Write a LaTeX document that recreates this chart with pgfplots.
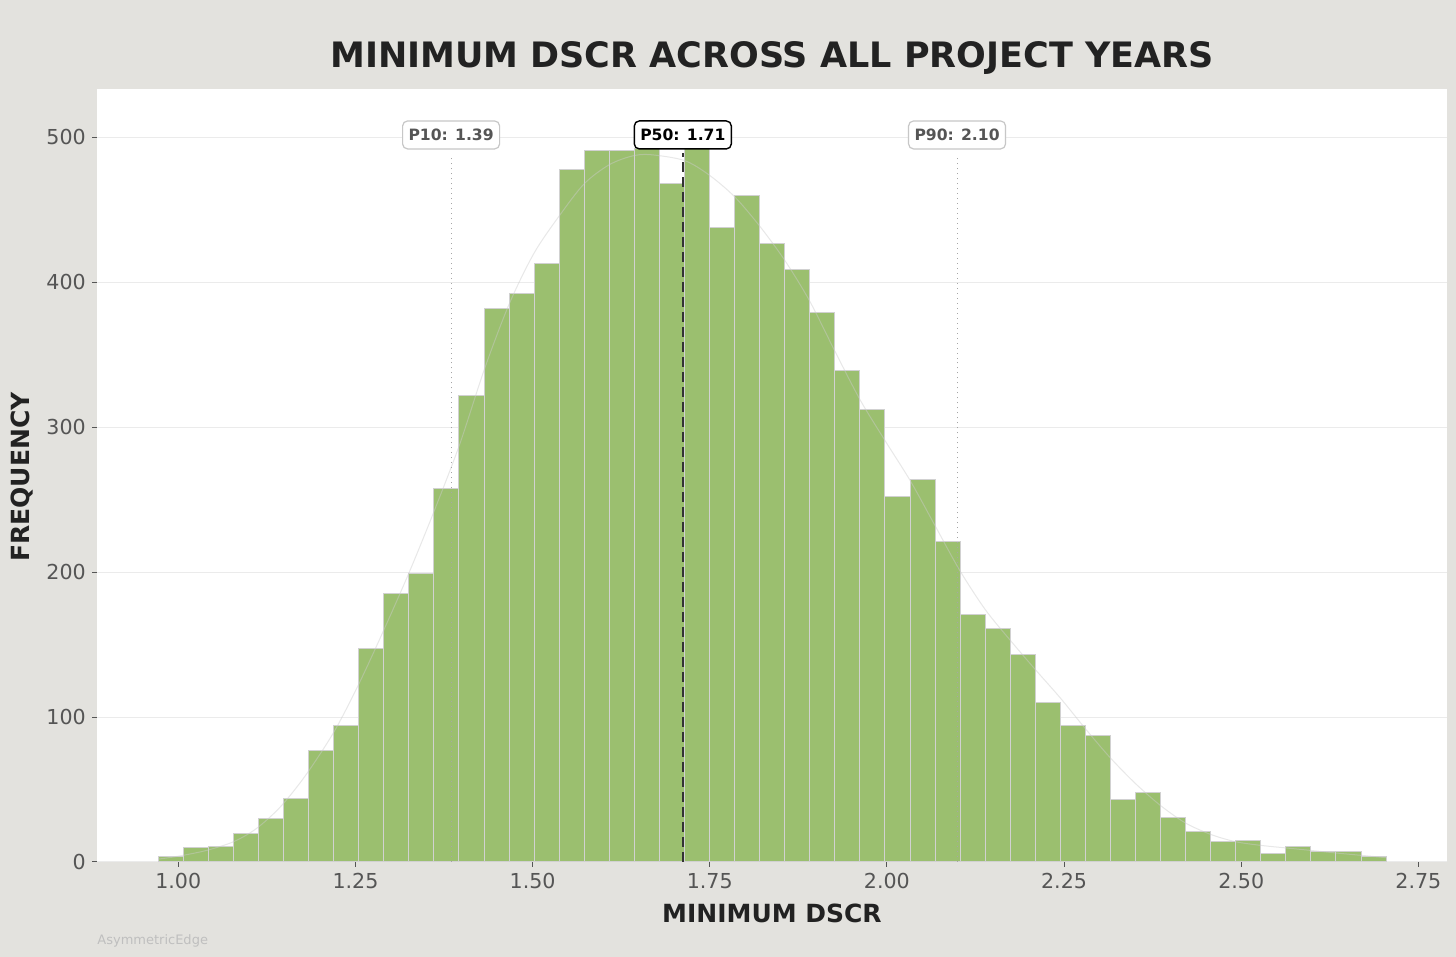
\documentclass[border=0pt]{standalone}
\usepackage{pgfplots}
\pgfplotsset{compat=1.18}
\usepackage{fontspec}
\setmainfont{DejaVu Sans}
\definecolor{bgc}{RGB}{227,226,222}
\definecolor{barg}{RGB}{155,191,111}
\definecolor{titlec}{RGB}{34,34,34}
\definecolor{tickc}{RGB}{85,85,85}
\begin{document}
\begin{tikzpicture}
\fill[bgc] (0,0) rectangle (728bp,478.5bp);
\useasboundingbox (0,0) rectangle (728bp,478.5bp);
\begin{axis}[
  at={(48.5bp,47.5bp)}, anchor=south west,
  scale only axis, width=675bp, height=386.5bp,
  xmin=0.8853, xmax=2.7904, ymin=0, ymax=533.3,
  axis background/.style={fill=white},
  axis line style={draw=none},
  xtick={1.00,1.25,1.50,1.75,2.00,2.25,2.50,2.75},
  ytick={0,100,200,300,400,500},
  tick align=outside, tick pos=left,
  major tick length=2.4bp,
  tick style={tickc, line width=0.5bp},
  /pgf/number format/assume math mode=true,
  xticklabel style={/pgf/number format/.cd, fixed, fixed zerofill, precision=2, /tikz/.cd, font=\fontsize{10.3bp}{12bp}\selectfont, text=tickc, anchor=center, yshift=-7bp},
  yticklabel style={font=\fontsize{10.3bp}{12bp}\selectfont, text=tickc, anchor=east, inner sep=0pt, xshift=-3bp},
  scaled x ticks=false,
  ymajorgrids, grid style={black!8, line width=0.5bp},
  clip=false,
]
\addplot[ybar interval, fill=barg, draw=black!18, line width=0.5bp] coordinates {
(0.9718,4) (1.0072,10) (1.0425,11) (1.0779,20) (1.1132,30) (1.1486,44)
(1.1840,77) (1.2193,94) (1.2547,147) (1.2900,185) (1.3254,199) (1.3608,258)
(1.3961,322) (1.4315,382) (1.4668,392) (1.5022,413) (1.5376,478) (1.5729,491)
(1.6083,491) (1.6436,492) (1.6790,468) (1.7144,494) (1.7497,438) (1.7851,460)
(1.8204,427) (1.8558,409) (1.8912,379) (1.9265,339) (1.9619,312) (1.9972,252)
(2.0326,264) (2.0680,221) (2.1033,171) (2.1387,161) (2.1740,143) (2.2094,110)
(2.2448,94) (2.2801,87) (2.3155,43) (2.3508,48) (2.3862,31) (2.4216,21)
(2.4569,14) (2.4923,15) (2.5276,6) (2.5630,11) (2.5984,7) (2.6337,7)
(2.6691,4) (2.7044,4)
};
\addplot[smooth, black!20, opacity=0.45, line width=0.5bp] coordinates {
(0.972,2) (1.00,4) (1.04,8) (1.078,14) (1.11,23) (1.144,38) (1.18,60)
(1.22,90) (1.255,123) (1.29,160) (1.326,200) (1.361,242) (1.397,288)
(1.432,340) (1.467,385) (1.502,420) (1.538,446) (1.573,468) (1.608,481)
(1.64,487) (1.666,488) (1.714,484) (1.749,474) (1.785,459) (1.82,439)
(1.856,415) (1.891,387) (1.926,353) (1.962,319) (1.997,291) (2.033,263)
(2.068,232) (2.103,201) (2.139,174) (2.174,153) (2.209,133) (2.245,113)
(2.28,92) (2.315,72) (2.351,54) (2.386,39) (2.421,27) (2.457,19)
(2.492,14) (2.527,11.5) (2.563,9.7) (2.598,8) (2.634,6.2) (2.669,4.6) (2.704,3)
};
\addplot[black!35, dotted, line width=0.5bp] coordinates {(1.385,0) (1.385,487)};
\addplot[black!35, dotted, line width=0.5bp] coordinates {(2.099,0) (2.099,487)};
\addplot[black!80, dash pattern=on 5bp off 2.5bp, line width=0.7bp] coordinates {(1.712,0) (1.712,489)};
\node[draw=black!22, fill=white, rounded corners=2.5bp, line width=0.6bp, minimum width=48.5bp, minimum height=14bp, inner sep=0pt, text=tickc, font=\bfseries\fontsize{7.8bp}{9bp}\selectfont] at (axis cs:1.385,501.6) {P10: 1.39};
\node[draw=black!22, fill=white, rounded corners=2.5bp, line width=0.6bp, minimum width=48.5bp, minimum height=14bp, inner sep=0pt, text=tickc, font=\bfseries\fontsize{7.8bp}{9bp}\selectfont] at (axis cs:2.099,501.6) {P90: 2.10};
\node[draw=black, fill=white, rounded corners=2.5bp, line width=0.7bp, minimum width=48.5bp, minimum height=14bp, inner sep=0pt, text=black, font=\bfseries\fontsize{7.8bp}{9bp}\selectfont] at (axis cs:1.712,501.6) {P50: 1.71};
\end{axis}
\node[font=\bfseries\fontsize{17.5bp}{20bp}\selectfont, text=titlec] at (386bp,449.5bp) {MINIMUM DSCR ACROSS ALL PROJECT YEARS};
\node[font=\bfseries\fontsize{12.5bp}{15bp}\selectfont, text=titlec] at (386bp,22bp) {MINIMUM DSCR};
\node[font=\bfseries\fontsize{12.5bp}{15bp}\selectfont, text=titlec, rotate=90] at (11bp,240bp) {FREQUENCY};
\node[font=\fontsize{6.5bp}{8bp}\selectfont, text=black!25, anchor=west, inner sep=0pt] at (48.5bp,8bp) {AsymmetricEdge};
\end{tikzpicture}
\end{document}
